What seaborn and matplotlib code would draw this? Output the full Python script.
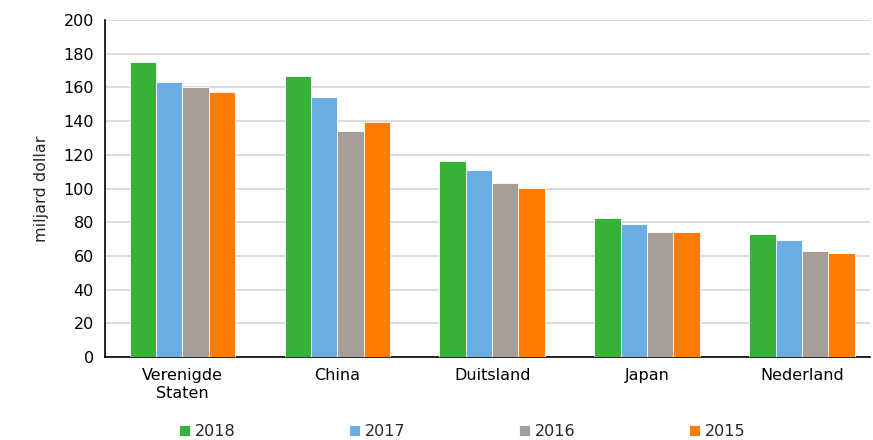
import matplotlib
matplotlib.use('Agg')
import matplotlib.pyplot as plt
import seaborn as sns
import pandas as pd

countries = ['Verenigde\nStaten', 'China', 'Duitsland', 'Japan', 'Nederland']
years = ['2018', '2017', '2016', '2015']
v2018 = [175, 167, 116.5, 82.5, 73]
v2017 = [163.5, 154.5, 111, 79, 69.5]
v2016 = [160, 134, 103, 74, 63]
v2015 = [157, 139.5, 100.5, 74, 61.5]
colors = ['#36B336', '#6AADE4', '#A59D96', '#FF7C00']

df = pd.DataFrame({
    'land': countries * 4,
    'jaar': [y for y in years for _ in countries],
    'waarde': v2018 + v2017 + v2016 + v2015,
})

sns.set_style('white')
plt.rcParams['font.family'] = ['DejaVu Sans']

fig = plt.figure(figsize=(8.73, 4.4), dpi=100)
ax = fig.add_axes([105 / 873, 1 - 357 / 440, 765 / 873, 337 / 440])
sns.barplot(data=df, x='land', y='waarde', hue='jaar', hue_order=years,
            palette=colors, width=0.68, edgecolor='white', linewidth=0.6,
            saturation=1, ax=ax, zorder=3)

ax.set_ylim(0, 200)
ax.set_yticks(range(0, 201, 20))
ax.set_xlim(-0.5, 4.44)
ax.yaxis.grid(True, color='#D9D9D9', linewidth=1.3, zorder=0)
ax.set_axisbelow(True)
for s in ['top', 'right']:
    ax.spines[s].set_visible(False)
ax.spines['left'].set_color('black')
ax.spines['bottom'].set_color('black')
ax.spines['left'].set_linewidth(1.2)
ax.spines['bottom'].set_linewidth(1.2)
ax.tick_params(axis='both', length=0, labelsize=11.5, colors='black', pad=8)
ax.set_xlabel('')
ax.set_ylabel('miljard dollar', fontsize=11.5, labelpad=10)

ax.legend(loc='upper center', bbox_to_anchor=((462 - 105) / 765, -0.18), ncol=4,
          frameon=False, fontsize=11.5, handlelength=0.7, handleheight=0.7,
          handletextpad=0.3, columnspacing=7.1, borderaxespad=0)

fig.savefig('out.png', dpi=100)
